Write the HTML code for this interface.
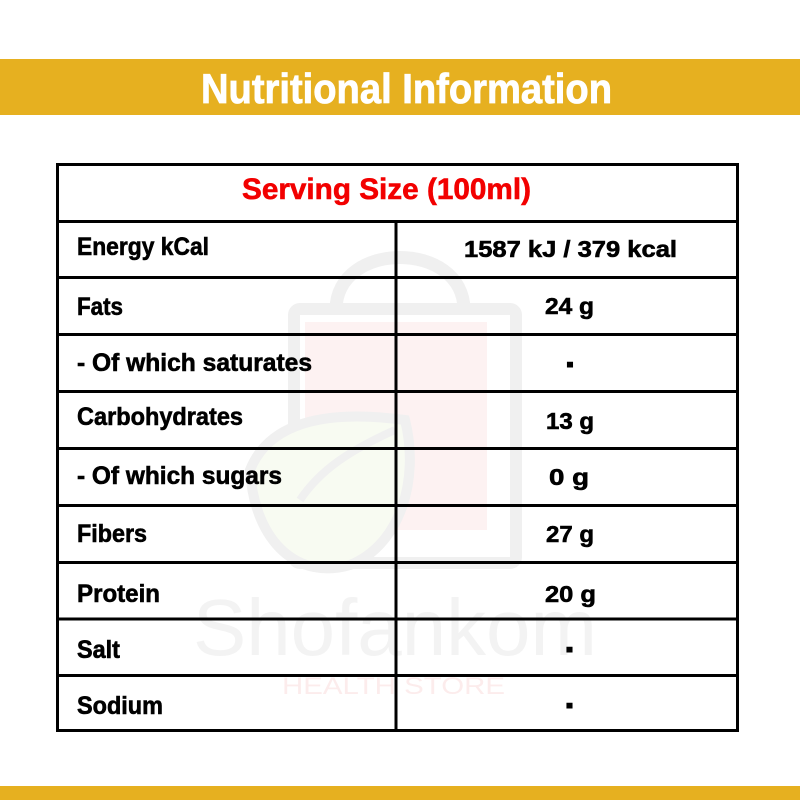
<!DOCTYPE html>
<html>
<head>
<meta charset="utf-8">
<style>
html,body{margin:0;padding:0;background:#fff;}
svg{display:block;}
text{font-family:"Liberation Sans",sans-serif;font-weight:bold;}
</style>
</head>
<body>
<svg width="800" height="800" viewBox="0 0 800 800" xmlns="http://www.w3.org/2000/svg">
  <rect x="0" y="0" width="800" height="800" fill="#ffffff"/>
  <!-- Banner -->
  <rect x="0" y="59" width="800" height="56" fill="#E6B020"/>
  <text x="201" y="103" font-size="42" fill="#ffffff" stroke="#ffffff" stroke-width="0.8" textLength="411" lengthAdjust="spacingAndGlyphs">Nutritional Information</text>
  <!-- bottom bar -->
  <rect x="0" y="786" width="800" height="14" fill="#E6B020"/>

  <!-- Watermark -->
  <g>
    <path d="M336 310 C336 240 464 240 464 310" fill="none" stroke="#f0f0f0" stroke-width="13"/>
    <rect x="294" y="309" width="222" height="254" rx="6" fill="none" stroke="#f0f0f0" stroke-width="12"/>
    <rect x="305" y="322" width="182" height="208" fill="#fdf2f2"/>
    <path d="M250 470 C270 420 330 410 405 420 C420 480 400 545 350 565 C300 580 255 545 250 470 Z" fill="#f8fbf2" stroke="#f0f0f0" stroke-width="10"/>
    <path d="M300 500 C320 470 350 450 395 430" fill="none" stroke="#f0f0f0" stroke-width="8"/>
    <text x="193" y="655" font-size="80" style="font-weight:normal" fill="#f3f3f3" textLength="404" lengthAdjust="spacingAndGlyphs">Shofankom</text>
    <text x="282" y="694" font-size="24" style="font-weight:normal" fill="#fcecec" textLength="223" lengthAdjust="spacingAndGlyphs">HEALTH STORE</text>
  </g>

  <!-- Table -->
  <g stroke="#000" stroke-width="3" fill="none">
    <rect x="57.5" y="164.5" width="680" height="566"/>
    <line x1="57" y1="221.5" x2="738" y2="221.5"/>
    <line x1="57" y1="277.5" x2="738" y2="277.5"/>
    <line x1="57" y1="334.5" x2="738" y2="334.5"/>
    <line x1="57" y1="391.5" x2="738" y2="391.5"/>
    <line x1="57" y1="448.5" x2="738" y2="448.5"/>
    <line x1="57" y1="505.5" x2="738" y2="505.5"/>
    <line x1="57" y1="562.5" x2="738" y2="562.5"/>
    <line x1="57" y1="619" x2="738" y2="619"/>
    <line x1="57" y1="675.5" x2="738" y2="675.5"/>
    <line x1="396" y1="221" x2="396" y2="731"/>
  </g>

  <text x="242" y="199" font-size="30" fill="#F20000" stroke="#F20000" stroke-width="0.6" textLength="289" lengthAdjust="spacingAndGlyphs">Serving Size (100ml)</text>

  <g fill="#000" stroke="#000" stroke-width="0.6" font-size="25">
    <text x="77" y="255" textLength="132" lengthAdjust="spacingAndGlyphs">Energy kCal</text>
    <text x="77" y="315" textLength="46" lengthAdjust="spacingAndGlyphs">Fats</text>
    <text x="77" y="371" textLength="235" lengthAdjust="spacingAndGlyphs">- Of which saturates</text>
    <text x="77" y="425" textLength="166" lengthAdjust="spacingAndGlyphs">Carbohydrates</text>
    <text x="77" y="484" textLength="205" lengthAdjust="spacingAndGlyphs">- Of which sugars</text>
    <text x="77" y="542" textLength="70" lengthAdjust="spacingAndGlyphs">Fibers</text>
    <text x="77" y="602" textLength="83" lengthAdjust="spacingAndGlyphs">Protein</text>
    <text x="77" y="658" textLength="43" lengthAdjust="spacingAndGlyphs">Salt</text>
    <text x="77" y="714" textLength="86" lengthAdjust="spacingAndGlyphs">Sodium</text>
  </g>

  <g fill="#000" stroke="#000" stroke-width="0.6" font-size="23.5">
    <text x="464" y="257" textLength="213" lengthAdjust="spacingAndGlyphs">1587 kJ / 379 kcal</text>
    <text x="545" y="314" textLength="49" lengthAdjust="spacingAndGlyphs">24 g</text>
    <text x="546" y="429" textLength="48" lengthAdjust="spacingAndGlyphs">13 g</text>
    <text x="549" y="485" textLength="40" lengthAdjust="spacingAndGlyphs">0 g</text>
    <text x="546" y="542" textLength="48" lengthAdjust="spacingAndGlyphs">27 g</text>
    <text x="545" y="602" textLength="51" lengthAdjust="spacingAndGlyphs">20 g</text>
  </g>

  <g fill="#000" font-size="24" text-anchor="middle">
    <text transform="translate(570,365) scale(1,2)" x="0" y="6.1">-</text>
    <text transform="translate(569.5,650) scale(1,2)" x="0" y="6.1">-</text>
    <text transform="translate(569.5,706) scale(1,2)" x="0" y="6.1">-</text>
  </g>
</svg>
</body>
</html>
